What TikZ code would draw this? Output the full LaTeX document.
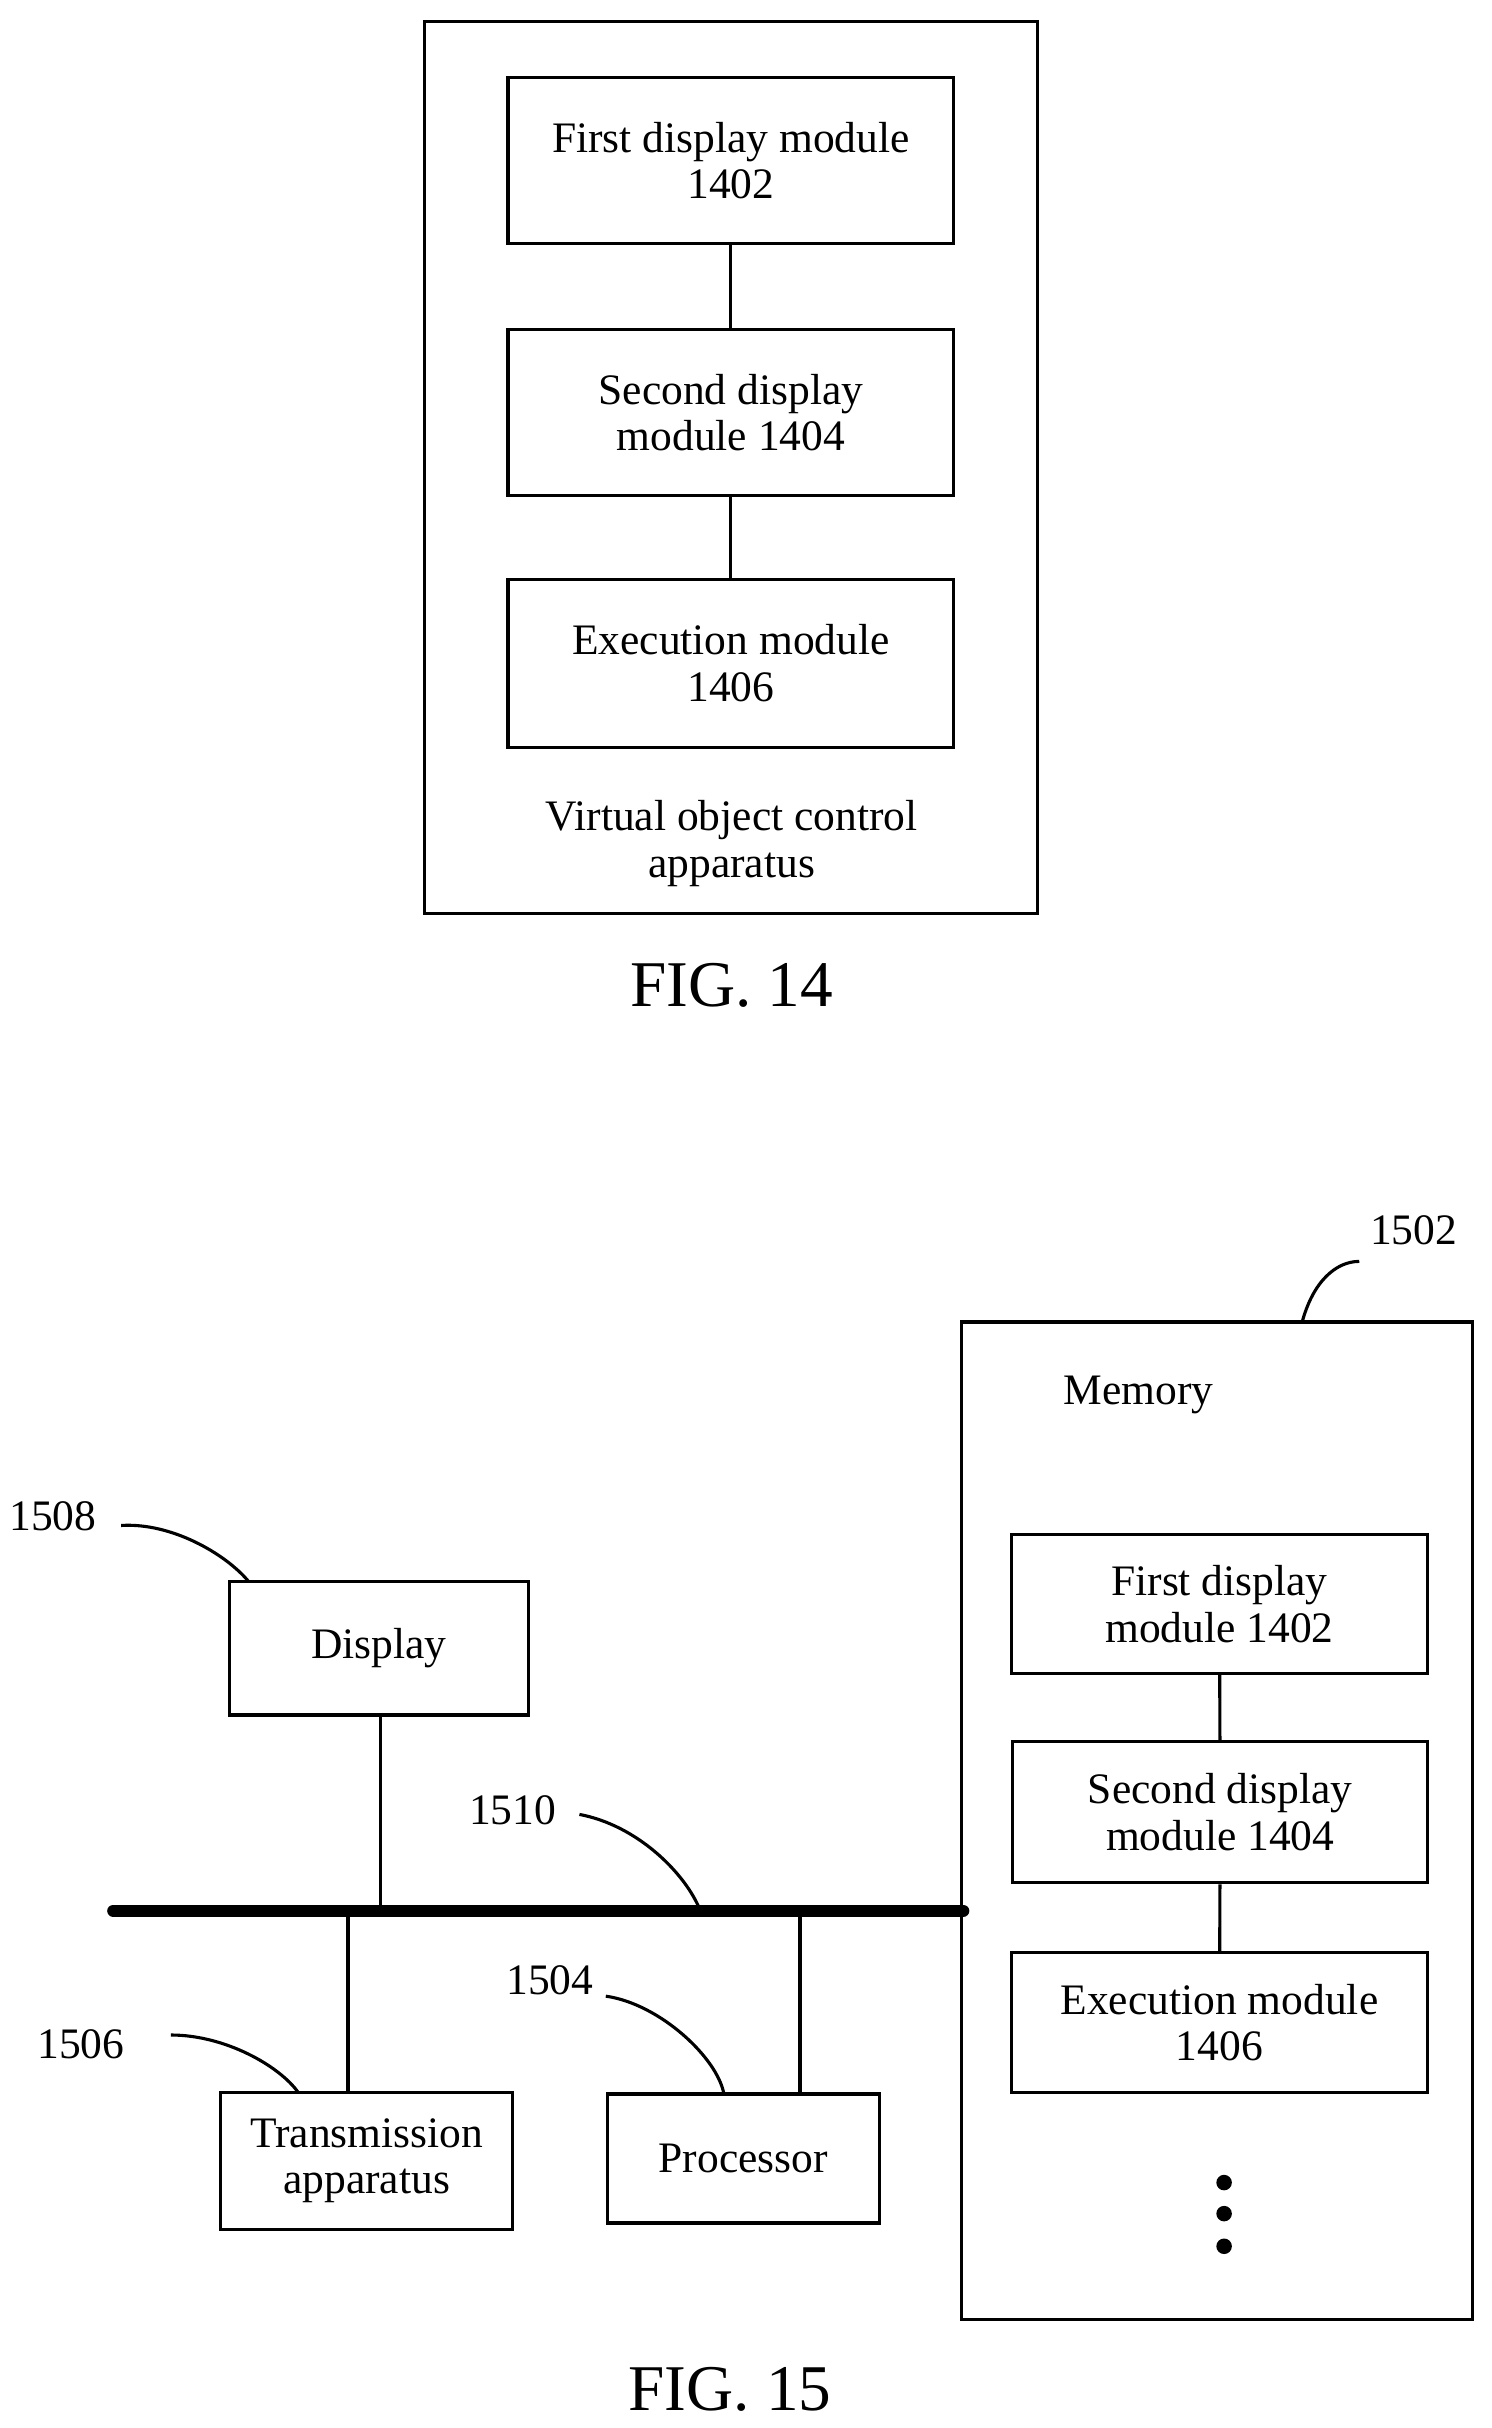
\documentclass[tikz,border=0pt]{standalone}
\usepackage{fontspec}
\setmainfont{Liberation Serif}
\begin{document}
\begin{tikzpicture}[x=1pt,y=-1pt,
  bx/.style={draw,line width=2pt},
  t/.style={font=\fontsize{28}{30}\selectfont,align=center},
  ln/.style={line width=2pt},
  figcap/.style={font=\fontsize{42}{44}\selectfont}]
\useasboundingbox (0,0) rectangle (960,1563);
% FIG 14
\draw[bx] (273,14) rectangle (668,588);
\node[bx,minimum width=287pt,minimum height=107pt,t] (a1) at (470.5,103.5) {First display module\\1402};
\node[bx,minimum width=287pt,minimum height=107pt,t] (a2) at (470.5,265.5) {Second display\\module 1404};
\node[bx,minimum width=287pt,minimum height=108pt,t] (a3) at (470.5,427) {Execution module\\1406};
\draw[ln] (a1) -- (a2); \draw[ln] (a2) -- (a3);
\node[t] (va) at (471,543) {Virtual object control\\apparatus};
\node[figcap] (f14) at (471,634) {FIG. 14};
% FIG 15
\draw[bx] (619,851) rectangle (948,1493);
\node[t] (mem) at (733,898) {Memory};
\node[t] (n1502) at (910,792) {1502};
\coordinate (m1) at (838,852);
\draw[ln] (m1) .. controls (845,825) and (860,812) .. (875,812);
\node[bx,minimum width=268pt,minimum height=89pt,t] (b1) at (785,1032.5) {First display\\module 1402};
\node[bx,minimum width=267pt,minimum height=91pt,t] (b2) at (785.5,1166.5) {Second display\\module 1404};
\node[bx,minimum width=268pt,minimum height=90pt,t] (b3) at (785,1302) {Execution module\\1406};
\draw[ln] (b1) -- (b2); \draw[ln] (b2) -- (b3);
\foreach \yy in {1405,1425,1446} \fill (788,\yy) circle (5pt);
\node[bx,minimum width=192pt,minimum height=86pt,t] (disp) at (244,1061) {Display};
\node[bx,minimum width=188pt,minimum height=88pt,t] (tr) at (236,1391) {Transmission\\apparatus};
\node[bx,minimum width=175pt,minimum height=83pt,t] (pr) at (478.5,1389.5) {Processor};
\coordinate (busL) at (73,1230); \coordinate (busR) at (620,1230);
\draw[line width=8pt,line cap=round] (busL) -- (busR);
\draw[ln] (245,1104) -- (245,1230);
\draw[ln] (224,1230) -- (224,1347);
\draw[ln] (515,1230) -- (515,1348);
\node[t] (n1508) at (34,976) {1508};
\draw[ln] (78,982) .. controls (110,980) and (145,1000) .. (160,1018);
\node[t] (n1506) at (52,1316) {1506};
\draw[ln] (110,1310) .. controls (145,1310) and (180,1330) .. (192,1347);
\node[t] (n1504) at (354,1275) {1504};
\draw[ln] (390,1285) .. controls (425,1290) and (462,1325) .. (466,1348);
\node[t] (n1510) at (330,1165) {1510};
\draw[ln] (373,1168) .. controls (410,1175) and (440,1205) .. (450,1228);
\node[figcap] (f15) at (470,1538) {FIG. 15};
\end{tikzpicture}
\end{document}
